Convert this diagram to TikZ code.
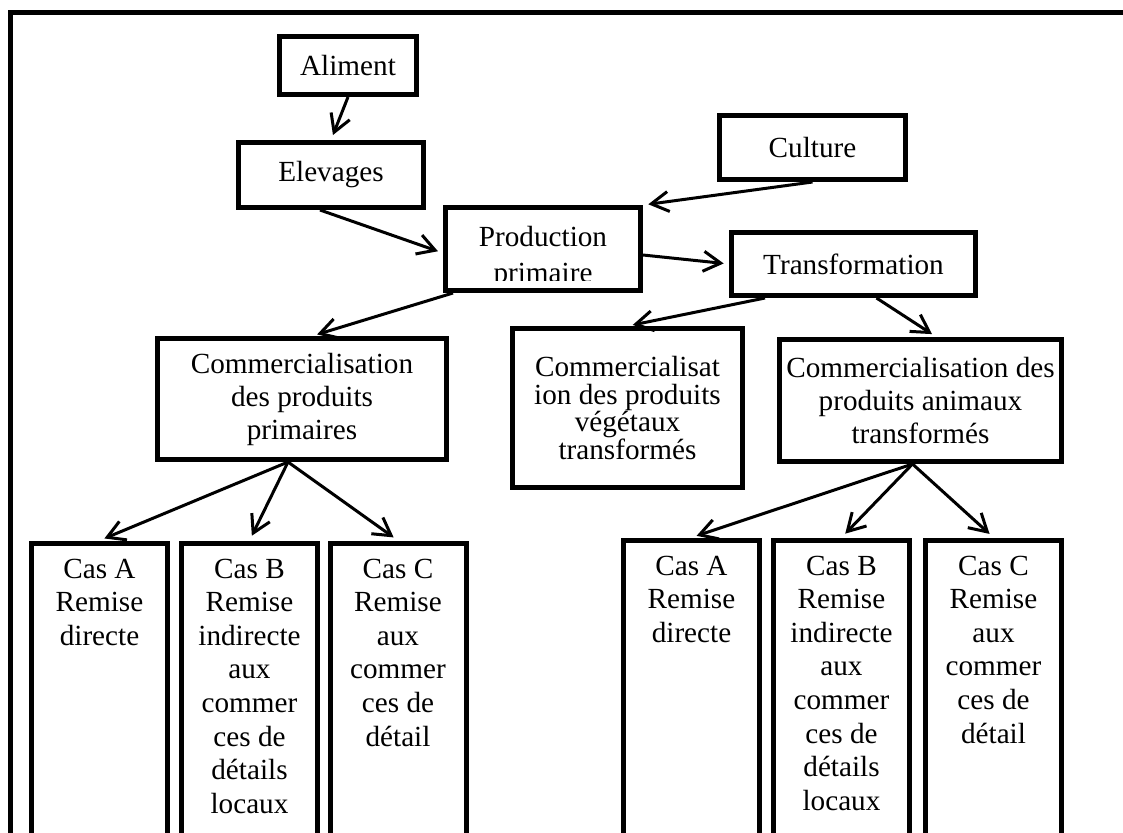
\documentclass[tikz,border=0pt]{standalone}
\usepackage{fontspec}
\setmainfont{Liberation Serif}
\usetikzlibrary{arrows.meta,calc,positioning}

\begin{document}
\begin{tikzpicture}[x=0.75pt, y=-0.75pt,
    box/.style={draw, line width=3.75pt, inner sep=0pt, align=center,
        font=\fontsize{21.9}{24.75}\selectfont},
    casebox/.style={draw, line width=3.75pt, minimum width=102pt, minimum height=240pt, anchor=north},
    castext/.style={inner sep=0pt, align=center, anchor=north, font=\fontsize{21.9}{25.2}\selectfont},
    flow/.style={-{Straight Barb[length=13pt, width=15pt]}, line width=2.25pt, shorten >=4pt}]
    \useasboundingbox (0,0) rectangle (1123,832);
    \clip (0,0) rectangle (1123,832);
    % Cadre
    \draw[line width=3.75pt] (10,12.5) rectangle (1140,860);
    % Boites du haut
    \node[box, minimum width=102.75pt, minimum height=43.5pt] (aliment) at (348,65.5) {Aliment};
    \node[box, minimum width=138.75pt, minimum height=48.75pt] (elevages) at (331,175) {Elevages};
    \node[box, minimum width=139.5pt, minimum height=48pt] (culture) at (812.5,147.5) {Culture};
    \node[box, minimum width=146.25pt, minimum height=62.25pt] (prod) at (543,249) {};
    \begin{scope}
        \clip (prod.north west) rectangle ($(prod.south east)+(0,-12.5)$);
        \node[box, draw=none, font=\fontsize{21.9}{27}\selectfont] (prodtext) at (543,257) {Production\\primaire};
    \end{scope}
    \node[box, minimum width=183pt, minimum height=47.25pt] (transf) at (853.5,264) {Transformation};
    \node[box, minimum width=216.75pt, minimum height=90.75pt] (commprim) at (302,399)
        {Commercialisation\\des produits\\primaires};
    \node[box, minimum width=172.5pt, minimum height=119.25pt, font=\fontsize{21.9}{20.6}\selectfont] (commveg) at (627.5,408)
        {Commercialisat\\ion des produits\\végétaux\\transformés};
    \node[box, minimum width=211.5pt, minimum height=91.5pt] (commanim) at (920.5,400.5)
        {Commercialisation des\\produits animaux\\transformés};
    % Cas
    \foreach \nm/\xx/\yy/\txt in {
            primA/99.5/540.5/{Cas A\\Remise\\directe},
            primB/249.5/540.5/{Cas B\\Remise\\indirecte\\aux\\commer\\ces de\\détails\\locaux},
            primC/398/540.5/{Cas C\\Remise\\aux\\commer\\ces de\\détail},
            animA/691.5/537.5/{Cas A\\Remise\\directe},
            animB/841.5/537.5/{Cas B\\Remise\\indirecte\\aux\\commer\\ces de\\détails\\locaux},
            animC/993.5/537.5/{Cas C\\Remise\\aux\\commer\\ces de\\détail}} {
            \node[casebox] (\nm) at (\xx,\yy) {};
            \node[castext] (\nm t) at ($(\nm.north)+(0,18)$) {\txt};
        }
    % Fleches
    \draw[flow] (aliment.south) -- (elevages.north);
    \draw[flow] ($(elevages.south)+(-11,0)$) -- ($(prod.west)+(0,4)$);
    \draw[flow] (culture.south) -- (prod.north east);
    \draw[flow] ($(prod.east)+(0,6)$) -- (transf.west);
    \draw[flow] ($(prod.south west)+(10,0)$) -- ($(commprim.north)+(10,0)$);
    \draw[flow] ($(transf.south west)+(36,0)$) -- (commveg.north);
    \draw[flow] ($(transf.south)+(23,0)$) -- ($(commanim.north)+(16,0)$);
    \foreach \c in {primA,primB,primC}
        \draw[flow] ($(commprim.south)+(-14,0)$) -- (\c.north);
    \foreach \c in {animA,animB,animC}
        \draw[flow] ($(commanim.south)+(-8,0)$) -- (\c.north);
\end{tikzpicture}
\end{document}
